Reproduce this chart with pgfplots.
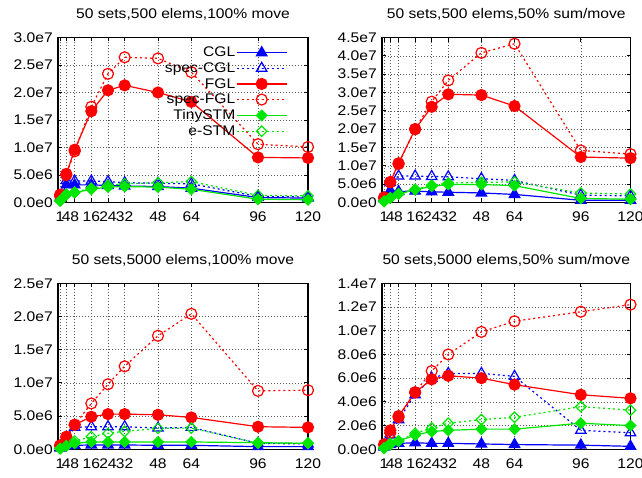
\documentclass[border=0pt]{standalone}
\usepackage{fontspec}
\setmainfont{Liberation Sans}[FakeStretch=1.12]
\usepackage{pgfplots}
\usepackage{pgfplotstable}
\pgfplotsset{compat=1.18}

\definecolor{cblue}{RGB}{0,0,255}
\definecolor{cred}{RGB}{255,0,0}
\definecolor{cgreen}{RGB}{0,230,0}

% values in units of 1e6
\pgfplotstableread{
x   cgl  scgl fgl  sfgl tiny estm
1   0.9  0.9  1.4  1.2  0.3  0.3
4   3.2  4.0  5.2  5.0  1.4  1.5
8   3.2  3.9  9.6  9.3  1.8  1.9
16  3.2  3.9  16.6 17.4 2.4  2.6
24  3.1  3.8  20.4 23.4 2.8  3.1
32  3.0  3.6  21.3 26.4 2.9  3.4
48  2.9  3.5  20.0 26.2 2.8  3.6
64  2.6  3.4  18.3 23.7 2.4  3.8
96  0.9  1.1  8.2  10.6 0.6  1.3
120 0.8  1.0  8.1  10.1 0.5  1.2
}\tA
\pgfplotstableread{
x   cgl  scgl fgl  sfgl tiny estm
1   1.0  1.2  1.4  1.2  0.3  0.3
4   3.3  5.5  5.6  5.5  1.2  1.3
8   3.0  7.2  10.7 10.5 2.3  2.4
16  3.1  7.2  20.0 20.0 3.5  3.6
24  2.9  7.1  26.1 27.5 4.4  4.7
32  2.8  7.0  29.5 33.3 4.9  5.3
48  2.6  6.5  29.3 40.8 4.9  5.5
64  2.2  6.0  26.3 43.3 4.6  5.6
96  0.6  2.0  12.4 14.2 1.1  2.6
120 0.6  1.8  12.1 13.2 0.9  2.3
}\tB
\pgfplotstableread{
x   cgl  scgl fgl  sfgl tiny estm
1   0.2  0.3  0.6  0.5  0.1  0.1
4   0.5  1.5  1.9  1.8  0.5  0.5
8   0.6  3.3  3.7  3.7  0.9  1.25
16  0.65 3.4  4.9  6.9  1.1  1.9
24  0.65 3.4  5.3  9.8  1.1  2.4
32  0.65 3.4  5.3  12.5 1.1  2.7
48  0.6  3.2  5.2  17.1 1.1  3.15
64  0.6  3.3  4.8  20.4 1.1  3.2
96  0.4  0.9  3.4  8.8  1.0  0.9
120 0.4  0.8  3.3  8.9  0.9  0.9
}\tC
\pgfplotstableread{
x   cgl  scgl fgl  sfgl tiny estm
1   0.2  0.3  0.4  0.4  0.1  0.1
4   0.4  1.2  1.6  1.4  0.5  0.4
8   0.5  2.5  2.8  2.7  0.7  0.7
16  0.55 4.6  4.8  4.8  1.2  1.35
24  0.5  6.0  5.9  6.6  1.5  1.8
32  0.5  6.4  6.2  8.0  1.6  2.2
48  0.45 6.4  6.0  9.9  1.7  2.5
64  0.4  6.15 5.45 10.8 1.7  2.7
96  0.35 1.6  4.6  11.6 2.2  3.6
120 0.25 1.4  4.3  12.2 2.0  3.3
}\tD

\pgfplotsset{
  myaxis/.style={
    scale only axis, width=250bp,
    xmin=0, xmax=120, ymin=0,
    xtick={1,4,8,16,24,32,48,64,96,120},
    xticklabels={1,4,8,16,24,32,48,64,96,120},
    grid=major,
    major grid style={black!65, line width=0.6bp, dash pattern=on 1bp off 2bp},
    axis line style={line width=1.3bp},
    every tick/.style={black, line width=0.8bp},
    major tick length=4bp,
    clip=false,
    tick label style={font=\fontsize{14}{16}\selectfont, inner sep=0pt},
    xticklabel style={anchor=center, yshift=-14.5bp},
    yticklabel style={anchor=east, xshift=-5bp},
  },
  cgl/.style={cblue, line width=1.2bp, solid, mark=triangle*, mark size=6bp, mark options={solid}},
  scgl/.style={cblue, line width=1.2bp, dash pattern=on 2bp off 3bp, mark=triangle, mark size=6bp, mark options={solid, fill=none}},
  fgl/.style={cred, line width=1.2bp, solid, mark=*, mark size=5.5bp, mark options={solid}},
  sfgl/.style={cred, line width=1.2bp, dash pattern=on 2bp off 3bp, mark=o, mark size=5.5bp, mark options={solid, fill=none}},
  tiny/.style={cgreen, line width=1.2bp, solid, mark=square*, mark size=3.7bp, mark options={solid, rotate=45}},
  estm/.style={cgreen, line width=1.2bp, dash pattern=on 2bp off 3bp, mark=square, mark size=3.7bp, mark options={solid, rotate=45, fill=none}},
}

\newcommand\allplots[1]{%
  \addplot[cgl] table[x=x,y=cgl]{#1};
  \addplot[scgl] table[x=x,y=scgl]{#1};
  \addplot[fgl] table[x=x,y=fgl]{#1};
  \addplot[sfgl] table[x=x,y=sfgl]{#1};
  \addplot[tiny] table[x=x,y=tiny]{#1};
  \addplot[estm] table[x=x,y=estm]{#1};
}
\newcommand\ptitle[2]{\node[anchor=center, inner sep=0pt, font=\fontsize{14}{16}\selectfont] at (rel axis cs:0.5,1) [yshift=#1] {#2};}

\begin{document}
\begin{tikzpicture}
\path[use as bounding box] (0bp,0bp) rectangle (642bp,478bp);

\begin{axis}[myaxis, at={(58bp,275.5bp)}, anchor=south west, height=165bp,
  ymax=30, ytick={0,5,...,30},
  yticklabels={0.0e0,5.0e6,1.0e7,1.5e7,2.0e7,2.5e7,3.0e7},
  legend plot pos=right,
  legend cell align=right,
  legend image code/.code={\draw[mark repeat=2, mark phase=2, #1] plot coordinates {(0bp,0bp) (25bp,0bp) (50bp,0bp)};},
  legend style={draw=none, fill=none, at={(0.918,0.948)}, anchor=north east,
    font=\fontsize{14}{16}\selectfont, inner sep=0pt, row sep=2.8bp,
    nodes={inner sep=0.8pt}, column sep=0bp},
]
\allplots{\tA}
\legend{CGL,spec-CGL,FGL,spec-FGL,TinySTM,e-STM}
\ptitle{23.5bp}{50 sets,500 elems,100\% move}
\end{axis}

\begin{axis}[myaxis, at={(382bp,275.5bp)}, anchor=south west, width=248.5bp, height=165bp,
  ymax=45, ytick={0,5,...,45},
  yticklabels={0.0e0,5.0e6,1.0e7,1.5e7,2.0e7,2.5e7,3.0e7,3.5e7,4.0e7,4.5e7},
]
\allplots{\tB}
\ptitle{23.5bp}{50 sets,500 elems,50\% sum/move}
\end{axis}

\begin{axis}[myaxis, at={(58bp,28.7bp)}, anchor=south west, height=166bp,
  ymax=25, ytick={0,5,...,25},
  yticklabels={0.0e0,5.0e6,1.0e7,1.5e7,2.0e7,2.5e7},
]
\allplots{\tC}
\ptitle{22.5bp}{50 sets,5000 elems,100\% move}
\end{axis}

\begin{axis}[myaxis, at={(382bp,28.7bp)}, anchor=south west, width=248.5bp, height=166bp,
  ymax=14, ytick={0,2,...,14},
  yticklabels={0.0e0,2.0e6,4.0e6,6.0e6,8.0e6,1.0e7,1.2e7,1.4e7},
]
\allplots{\tD}
\ptitle{22.5bp}{50 sets,5000 elems,50\% sum/move}
\end{axis}
\end{tikzpicture}
\end{document}
